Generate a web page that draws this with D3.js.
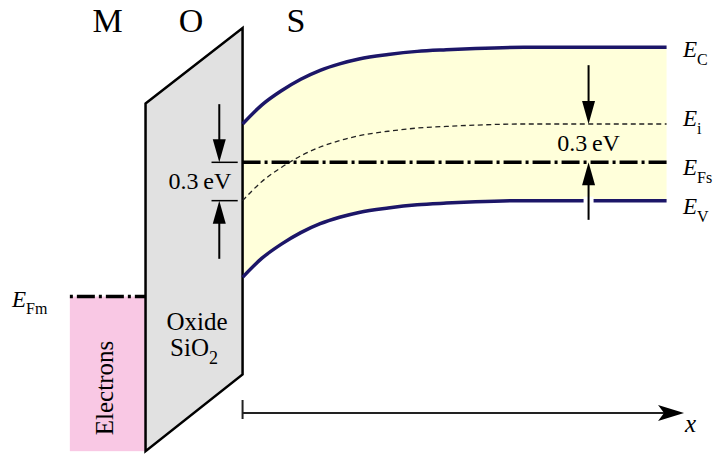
<!DOCTYPE html>
<html>
<head>
<meta charset="utf-8">
<script src="https://cdn.jsdelivr.net/npm/d3@7"></script>
<style>
  body { margin: 0; background: #fff; }
  text { font-family: "Liberation Serif", "Times New Roman", serif; fill: #000; }
</style>
</head>
<body>
<svg id="chart" width="718" height="455"></svg>
<script>
// positions in arbitrary units, x = 0 at the SiO2 / Si interface
const posX = [0, 0.2, 0.4, 0.6, 0.8, 1.0, 1.2, 1.5, 1.8, 2.1, 2.4, 2.9, 4.37];
// downward band bending (eV)
const bendEV = [0.60, 0.45, 0.34, 0.25, 0.18, 0.13, 0.092, 0.057, 0.032, 0.019, 0.009, 0, 0];

// bulk levels relative to E_Fs = 0 (eV)
const levelNames = ["C", "i", "Fs", "V"];
const levelEV = [0.9, 0.3, 0, -0.3];
const gapLabel = "0.3\u2009eV";

// oxide (SiO2) edges
const oxideX = [-1, 0];
const oxideTopEV = [0.46, 1.05];
const oxideBottomEV = [-2.26, -1.66];

// metal
const metalX = [-1.78, -1];
const efmEV = -1.05;
const metalBottomEV = -2.26;

const regionNames = ["M", "O", "S"];

const svg = d3.select("#chart");
const x = d3.scaleLinear().domain([-2.5, 4.9]).range([0, 718]);
const y = d3.scaleLinear().domain([1.27, -2.29]).range([0, 455]);

const band = posX.map((p, i) => ({ x: p, b: bendEV[i] }));
const EC = levelEV[0], EI = levelEV[1], EFS = levelEV[2], EV = levelEV[3];

const navy = "#1c1668";

// semiconductor band fill
svg.append("path")
  .datum(band)
  .attr("fill", "#ffffda")
  .attr("d", d3.area()
    .x(d => x(d.x))
    .y0(d => y(EV - d.b))
    .y1(d => y(EC - d.b))
    .curve(d3.curveMonotoneX));

// metal electrons
svg.append("rect")
  .attr("x", x(metalX[0]))
  .attr("y", y(efmEV))
  .attr("width", x(metalX[1]) - x(metalX[0]))
  .attr("height", y(metalBottomEV) - y(efmEV))
  .attr("fill", "#f9c8e4");

// oxide
svg.append("path")
  .attr("d", d3.line()([
    [x(oxideX[0]), y(oxideTopEV[0])],
    [x(oxideX[1]), y(oxideTopEV[1])],
    [x(oxideX[1]), y(oxideBottomEV[1])],
    [x(oxideX[0]), y(oxideBottomEV[0])]
  ]) + "Z")
  .attr("fill", "#e1e1e1")
  .attr("stroke", "#000")
  .attr("stroke-width", 2.5)
  .attr("stroke-linejoin", "miter");

// E_C and E_V
const bandLine = off => d3.line()
  .x(d => x(d.x))
  .y(d => y(off - d.b))
  .curve(d3.curveMonotoneX);

[EC, EV].forEach(lv => {
  svg.append("path")
    .datum(band)
    .attr("fill", "none")
    .attr("stroke", navy)
    .attr("stroke-width", 3.5)
    .attr("d", bandLine(lv));
});

// E_i (dashed)
svg.append("path")
  .datum(band)
  .attr("fill", "none")
  .attr("stroke", "#222")
  .attr("stroke-width", 1.3)
  .attr("stroke-dasharray", "5,3.5")
  .attr("d", bandLine(EI));

// Fermi levels (dash-dot)
svg.append("line")
  .attr("x1", x(0)).attr("x2", x(posX[posX.length - 1]))
  .attr("y1", y(EFS)).attr("y2", y(EFS))
  .attr("stroke", "#000").attr("stroke-width", 3.5)
  .attr("stroke-dasharray", "18,4,3,4");

svg.append("line")
  .attr("x1", x(metalX[0])).attr("x2", x(metalX[1]))
  .attr("y1", y(efmEV)).attr("y2", y(efmEV))
  .attr("stroke", "#000").attr("stroke-width", 3.5)
  .attr("stroke-dasharray", "3,4,18,4");

// arrows
function arrow(xv, fromE, toE) {
  const px = x(xv), y0 = y(fromE), y1 = y(toE);
  const dir = y1 > y0 ? 1 : -1;
  svg.append("line")
    .attr("x1", px).attr("x2", px)
    .attr("y1", y0).attr("y2", y1 - dir * 10)
    .attr("stroke", "#000").attr("stroke-width", 2);
  svg.append("path")
    .attr("d", `M${px},${y1} L${px - 6.5},${y1 - dir * 23} L${px + 6.5},${y1 - dir * 23} Z`)
    .attr("fill", "#000");
}

// left 0.3 eV marker (surface)
const leftX = -0.24;
[EFS, EI - bendEV[0]].forEach(lv => {
  svg.append("line")
    .attr("x1", x(-0.32)).attr("x2", x(-0.05))
    .attr("y1", y(lv)).attr("y2", y(lv))
    .attr("stroke", "#000").attr("stroke-width", 1.5);
});
arrow(leftX, 0.455, EFS);
arrow(leftX, -0.755, EI - bendEV[0]);
svg.append("text")
  .attr("x", x(-0.44))
  .attr("y", (y(EFS) + y(EI - bendEV[0])) / 2 + 7.5)
  .attr("text-anchor", "middle")
  .attr("font-size", 24)
  .text(gapLabel);

// right 0.3 eV marker (bulk)
const rightX = 3.566;
svg.append("line")
  .attr("x1", x(rightX)).attr("x2", x(rightX))
  .attr("y1", y(EV) - 4).attr("y2", y(EV) + 4)
  .attr("stroke", "#fff").attr("stroke-width", 10);
arrow(rightX, 0.76, EI);
arrow(rightX, -0.45, EFS);
svg.append("text")
  .attr("x", x(rightX))
  .attr("y", (y(EI) + y(EFS)) / 2 + 7.5)
  .attr("text-anchor", "middle")
  .attr("font-size", 24)
  .text(gapLabel);

// level labels
const labelOffset = [10, 2, 13, 13];
levelNames.forEach((n, i) => {
  const t = svg.append("text")
    .attr("x", 683)
    .attr("y", y(levelEV[i]) + labelOffset[i])
    .attr("font-size", 23);
  t.append("tspan").attr("font-style", "italic").text("E");
  t.append("tspan").attr("font-size", 16).attr("dy", 8).text(n);
});

const fm = svg.append("text")
  .attr("x", 12)
  .attr("y", y(efmEV) + 10.5)
  .attr("font-size", 23);
fm.append("tspan").attr("font-style", "italic").text("E");
fm.append("tspan").attr("font-size", 16).attr("dy", 7).text("Fm");

// region labels
const regionX = [(metalX[0] + metalX[1]) / 2, (oxideX[0] + oxideX[1]) / 2 - 0.03, 0.55];
regionNames.forEach((n, i) => {
  svg.append("text")
    .attr("x", x(regionX[i]))
    .attr("y", 32)
    .attr("text-anchor", "middle")
    .attr("font-size", 34)
    .text(n);
});

// oxide label
svg.append("text")
  .attr("x", x(-0.47)).attr("y", 330)
  .attr("text-anchor", "middle")
  .attr("font-size", 25)
  .text("Oxide");
const sio = svg.append("text")
  .attr("x", x(-0.5)).attr("y", 356)
  .attr("text-anchor", "middle")
  .attr("font-size", 25);
sio.append("tspan").text("SiO");
sio.append("tspan").attr("font-size", 18).attr("dy", 8).text("2");

// electrons label
svg.append("text")
  .attr("transform", `translate(${x(metalX[0]) + 43},388) rotate(-90)`)
  .attr("text-anchor", "middle")
  .attr("font-size", 25)
  .text("Electrons");

// x axis arrow
const axisY = 413;
const tipX = x(4.55);
svg.append("line")
  .attr("x1", x(0)).attr("x2", tipX - 18)
  .attr("y1", axisY).attr("y2", axisY)
  .attr("stroke", "#222").attr("stroke-width", 2);
svg.append("line")
  .attr("x1", x(0)).attr("x2", x(0))
  .attr("y1", axisY - 13).attr("y2", axisY + 6)
  .attr("stroke", "#222").attr("stroke-width", 2);
svg.append("path")
  .attr("d", `M${tipX},${axisY} L${tipX - 26},${axisY - 8} L${tipX - 20},${axisY} L${tipX - 26},${axisY + 8} Z`)
  .attr("fill", "#000");
svg.append("text")
  .attr("x", tipX + 1).attr("y", 432)
  .attr("font-size", 25)
  .attr("font-style", "italic")
  .text("x");
</script>
</body>
</html>
